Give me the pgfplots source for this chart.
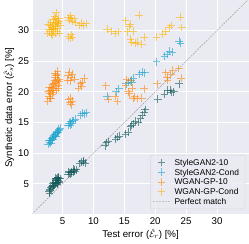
\documentclass[border=0pt]{standalone}
\usepackage{pgfplots}
\pgfplotsset{compat=1.18}
\usepackage{pgfplotstable}
\usepackage{fontspec}
\setmainfont{Liberation Sans}
\definecolor{bgc}{HTML}{EAEAF2}
\definecolor{cA}{HTML}{0F5757}
\definecolor{cB}{HTML}{17A2CC}
\definecolor{cC}{HTML}{FF8505}
\definecolor{cD}{HTML}{FFB300}
\pgfplotstableread{
x y
2.8 3.7
2.9 4.1
3.0 3.9
3.1 4.4
3.3 4.6
3.5 4.8
3.6 5.2
3.8 5.0
3.9 5.5
4.0 5.3
4.1 5.7
4.2 5.1
4.3 5.6
4.4 5.9
4.5 5.4
4.6 5.8
3.7 4.7
4.2 6.0
3.4 5.1
3.9 5.9
4.1 4.9
4.4 5.3
3.6 4.5
4.0 5.8
4.3 6.1
3.2 4.2
2.9 3.5
5.9 6.5
6.1 6.8
6.3 6.6
6.5 7.0
6.7 6.9
6.9 7.2
7.2 7.3
6.0 7.0
6.4 6.8
6.8 7.4
7.0 7.0
7.8 8.3
8.1 8.6
8.4 8.5
8.7 8.4
8.3 8.8
11.9 11.2
12.1 11.7
12.4 11.9
13.6 12.3
13.9 12.6
14.2 12.8
15.2 13.1
15.6 13.4
16.0 14.3
16.2 14.6
16.5 14.8
16.8 15.2
17.3 15.0
17.6 15.6
17.9 16.2
18.2 16.7
18.4 17.1
20.4 18.8
21.5 19.6
22.0 20.3
22.5 20.3
22.6 19.9
23.0 20.0
23.9 21.3
}\tA
\pgfplotstableread{
x y
2.7 11.5
2.9 11.8
3.0 12.1
3.1 11.6
3.3 12.4
3.5 12.6
3.6 12.9
3.8 13.1
3.9 12.8
4.1 13.4
4.2 13.6
4.4 13.9
4.6 14.1
3.2 12.0
4.0 13.2
3.4 12.2
3.7 12.7
4.3 13.3
2.8 12.0
4.5 13.7
5.9 14.6
6.1 14.9
6.3 15.1
6.5 14.8
6.8 15.3
7.1 15.5
6.2 14.5
6.6 15.2
7.9 16.2
8.2 16.5
8.5 16.4
8.8 16.6
12.2 19.3
13.7 20.0
14.1 20.5
15.3 21.3
15.7 21.6
16.1 21.9
16.5 22.2
16.2 21.5
17.4 22.9
17.9 23.2
18.3 23.1
20.2 24.9
21.5 25.8
21.9 26.1
22.3 26.6
22.7 26.5
23.9 28.3
24.1 27.9
}\tB
\pgfplotstableread{
x y
2.6 18.5
2.8 19.2
2.9 19.8
3.0 20.3
3.1 18.9
3.2 20.8
3.3 19.5
2.7 20.1
3.4 21.2
3.6 20.5
3.7 21.8
3.8 22.3
3.9 20.9
4.0 21.5
4.1 22.8
4.2 23.4
4.3 21.1
4.4 22.1
3.5 19.9
3.8 23.0
4.0 20.2
4.5 21.7
3.0 19.0
2.8 20.7
3.6 21.4
4.2 21.9
4.3 20.6
3.9 22.6
3.4 20.2
5.9 22.7
6.1 23.2
6.4 22.4
6.6 22.9
7.0 22.1
5.8 21.9
6.3 21.8
6.0 18.7
6.2 18.2
6.4 17.9
6.6 18.5
6.3 19.0
7.6 20.6
7.9 21.3
8.2 21.6
8.5 22.2
8.1 20.9
12.0 21.0
12.4 18.8
13.9 18.4
13.5 19.3
15.2 21.0
15.6 20.0
15.8 19.7
16.0 21.8
16.4 18.9
16.7 19.2
17.1 18.9
16.3 20.6
15.4 22.0
18.2 20.5
17.8 19.0
20.3 21.3
21.7 23.1
22.0 21.9
22.5 22.8
22.8 23.5
23.8 23.8
24.2 22.2
21.9 22.4
}\tC
\pgfplotstableread{
x y
2.6 29.5
2.8 30.2
2.9 29.8
3.0 30.8
3.1 31.3
3.2 29.4
3.3 30.5
3.5 31.8
3.6 30.1
3.7 32.3
3.8 31.1
3.9 30.6
4.0 32.9
4.1 31.6
4.2 29.9
4.3 31.2
4.4 32.0
4.6 30.9
3.4 29.2
4.5 29.6
2.7 31.0
3.2 30.1
3.6 31.0
4.0 31.4
4.2 30.4
3.8 29.6
4.4 31.5
3.5 30.3
3.9 32.0
5.9 32.1
6.1 31.7
6.3 32.4
6.6 31.5
6.9 31.9
7.1 31.3
6.4 31.9
6.0 29.0
6.2 28.7
6.4 29.3
6.6 28.9
7.7 30.8
8.0 31.2
8.4 30.9
8.8 31.1
12.2 30.2
12.9 29.9
13.5 29.5
14.0 29.8
15.2 31.6
15.5 29.8
15.8 30.6
16.0 28.6
16.2 28.1
16.5 29.9
16.8 27.9
17.1 28.1
17.4 32.5
18.2 28.9
17.8 27.8
20.2 28.9
21.2 29.4
21.7 29.9
22.3 30.5
22.6 30.8
24.0 32.2
24.3 30.5
15.9 31.0
}\tD
\begin{document}
\begin{tikzpicture}
\begin{axis}[
  width=211pt, height=209pt, scale only axis,
  xmin=0.15, xmax=35.1, ymin=0, ymax=34.9,
  xtick={5,10,15,20,25,30}, ytick={5,10,15,20,25,30},
  axis background/.style={fill=bgc},
  axis line style={draw=none},
  major tick length=0pt,
  grid=major,
  major grid style={white, line width=0.9pt},
  tick label style={font=\fontsize{9.5}{11}\selectfont},
  label style={font=\fontsize{9.5}{11}\selectfont},
  /pgf/number format/assume math mode=true,
  xlabel={Test error ($\hat{\mathcal{E}}_r$) [\%]},
  ylabel={Synthetic data error ($\hat{\mathcal{E}}_s$) [\%]},
  xlabel style={yshift=3pt},
  ylabel style={yshift=-3pt},
  legend style={font=\fontsize{8.2}{11.7}\selectfont, fill=bgc, fill opacity=0.8, text opacity=1,
    draw=gray!30, rounded corners=1.5pt, at={(0.985,0.025)}, anchor=south east,
    row sep=0pt, inner xsep=2pt, inner ysep=2.5pt, nodes={inner xsep=4pt, inner ysep=1.8pt, text depth=0pt}},
  legend cell align=left,
  legend image post style={opacity=0.6},
  every axis plot/.append style={only marks, mark=+, mark size=3.8pt, line width=0.75pt, opacity=0.6},
]
\addplot[color=cA] table[x=x,y=y]{\tA};
\addlegendentry{StyleGAN2-10}
\addplot[color=cB] table[x=x,y=y]{\tB};
\addlegendentry{StyleGAN2-Cond}
\addplot[color=cC] table[x=x,y=y]{\tC};
\addlegendentry{WGAN-GP-10}
\addplot[color=cD] table[x=x,y=y]{\tD};
\addlegendentry{WGAN-GP-Cond}
\addplot[no marks, sharp plot, gray!70, dashed, line width=0.6pt, opacity=0.9, dash pattern=on 2pt off 1pt] coordinates {(0,0) (35.1,35.1)};
\addlegendentry{Perfect match}
\end{axis}
\end{tikzpicture}
\end{document}
